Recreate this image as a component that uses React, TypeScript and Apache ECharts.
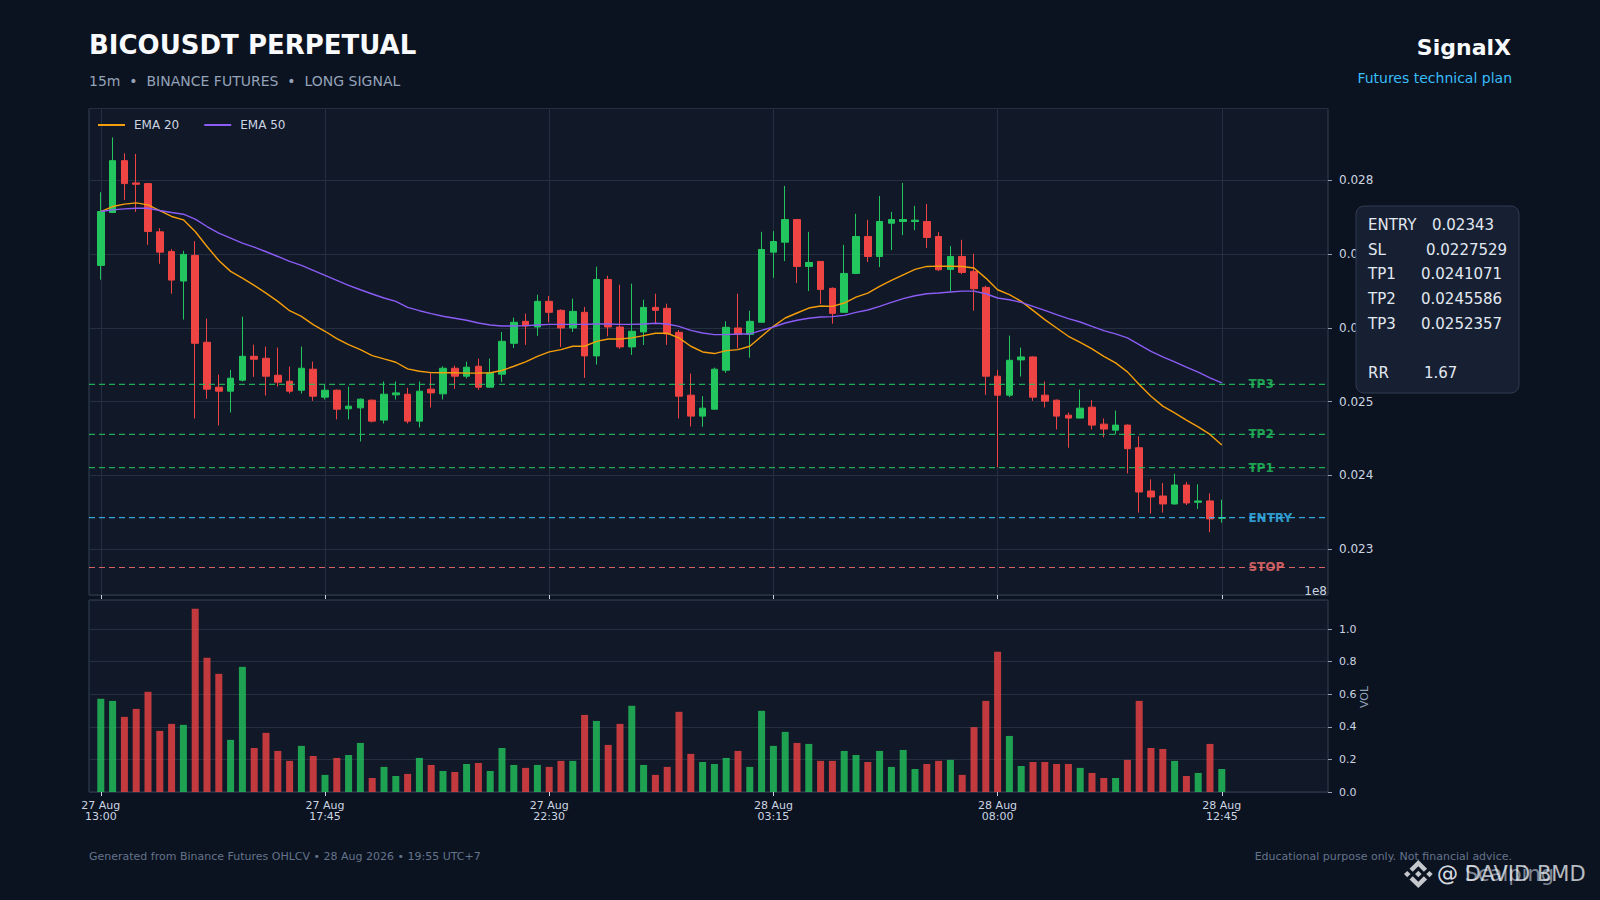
import React, { useEffect, useRef } from "react";
import * as echarts from "echarts";

// ---------------- DATA ----------------
const opens = [
  0.026848, 0.027565, 0.028268, 0.027966, 0.027957, 0.027303, 0.027037, 0.026636, 0.026983, 0.025806,
  0.025197, 0.025143, 0.025292, 0.025616, 0.025589, 0.025359, 0.025278, 0.025156, 0.025441, 0.025062,
  0.025156, 0.024904, 0.024917, 0.025021, 0.024751, 0.025093, 0.025102, 0.024737, 0.02517, 0.025107,
  0.025454, 0.025346, 0.025481, 0.025197, 0.025373, 0.025792, 0.02609, 0.026013, 0.026361, 0.026239,
  0.026, 0.026212, 0.025621, 0.026658, 0.026013, 0.025743, 0.025946, 0.026279, 0.026266, 0.025941,
  0.025089, 0.024805, 0.024899, 0.025427, 0.026, 0.025914, 0.026077, 0.027028, 0.027163, 0.02747,
  0.026834, 0.026902, 0.026537, 0.026212, 0.026739, 0.02724, 0.026969, 0.02742, 0.027443, 0.027443,
  0.027443, 0.02724, 0.026793, 0.026969, 0.026767, 0.02655, 0.025346, 0.025089, 0.025567, 0.025607,
  0.025089, 0.025021, 0.024818, 0.024778, 0.024926, 0.024696, 0.024615, 0.024683, 0.024376, 0.02379,
  0.023722, 0.023614, 0.023871, 0.023637, 0.023655, 0.02342,
];
const closes = [
  0.027578, 0.028268, 0.027957, 0.027948, 0.027308, 0.027028, 0.026649, 0.026997, 0.025792, 0.02517,
  0.025143, 0.025319, 0.025616, 0.025576, 0.025346, 0.025265, 0.025143, 0.025454, 0.025075, 0.025156,
  0.024899, 0.02494, 0.025035, 0.024737, 0.025102, 0.02512, 0.024737, 0.025143, 0.02512, 0.025454,
  0.025346, 0.025468, 0.025197, 0.025391, 0.025819, 0.026077, 0.026027, 0.026361, 0.026212, 0.026,
  0.026225, 0.025621, 0.026658, 0.026013, 0.025743, 0.025955, 0.026279, 0.026239, 0.025919, 0.025075,
  0.024805, 0.024913, 0.025441, 0.026009, 0.025914, 0.02609, 0.027064, 0.027172, 0.02747, 0.026834,
  0.026888, 0.026523, 0.026198, 0.026739, 0.02724, 0.026969, 0.027443, 0.02747, 0.02747, 0.027461,
  0.027227, 0.026789, 0.026969, 0.026753, 0.026532, 0.025346, 0.025089, 0.025562, 0.025607, 0.025062,
  0.025008, 0.024805, 0.024778, 0.024913, 0.024683, 0.024629, 0.024683, 0.024363, 0.023776, 0.023709,
  0.023614, 0.023871, 0.023628, 0.023655, 0.023411, 0.02343,
];
const lows = [
  0.026654, 0.02756, 0.027736, 0.027574, 0.027127, 0.02687, 0.026464, 0.026113, 0.024773, 0.025039,
  0.024678, 0.024854, 0.025274, 0.025337, 0.025084, 0.025206, 0.025111, 0.025111, 0.025012, 0.02503,
  0.02476, 0.02476, 0.024462, 0.024719, 0.024705, 0.02503, 0.024705, 0.024651, 0.024922, 0.02503,
  0.025175, 0.025314, 0.025161, 0.025197, 0.025269, 0.025729, 0.02577, 0.025892, 0.026077, 0.025743,
  0.025946, 0.025323, 0.025504, 0.025887, 0.025716, 0.025635, 0.02577, 0.026067, 0.02577, 0.024773,
  0.024665, 0.02466, 0.024895, 0.025391, 0.02572, 0.025598, 0.026077, 0.026681, 0.026906, 0.026609,
  0.0265, 0.026325, 0.026058, 0.026212, 0.02673, 0.026893, 0.026825, 0.027055, 0.027258, 0.027326,
  0.027082, 0.026771, 0.026496, 0.02673, 0.026234, 0.025093, 0.02411, 0.025062, 0.025342, 0.025012,
  0.024922, 0.024624, 0.024376, 0.024778, 0.024624, 0.024516, 0.024557, 0.024029, 0.023497, 0.023483,
  0.023497, 0.023605, 0.0236, 0.023546, 0.023231, 0.023361,
];
const highs = [
  0.02784, 0.028584, 0.028368, 0.028359, 0.027966, 0.027353, 0.027069, 0.027046, 0.027177, 0.026126,
  0.025368, 0.025432, 0.026153, 0.025774, 0.025747, 0.025734, 0.025477, 0.025747, 0.025544, 0.025229,
  0.025166, 0.025206, 0.025044, 0.02503, 0.025274, 0.025274, 0.025188, 0.025274, 0.025391, 0.025481,
  0.02549, 0.025544, 0.025585, 0.025585, 0.025946, 0.02614, 0.026194, 0.026451, 0.026433, 0.026252,
  0.026397, 0.026284, 0.02683, 0.026708, 0.026586, 0.0266, 0.026383, 0.026464, 0.026329, 0.025973,
  0.025382, 0.025075, 0.025463, 0.02609, 0.026464, 0.026234, 0.027303, 0.027312, 0.027926, 0.02747,
  0.027303, 0.026902, 0.02655, 0.027127, 0.027547, 0.027466, 0.02779, 0.027574, 0.027966, 0.027655,
  0.027682, 0.027299, 0.027109, 0.027195, 0.027006, 0.026573, 0.025432, 0.025896, 0.025734, 0.025616,
  0.025274, 0.02503, 0.024854, 0.025165, 0.025021, 0.024773, 0.024881, 0.024692, 0.02453, 0.023948,
  0.023898, 0.024024, 0.023912, 0.02388, 0.023758, 0.023673,
];
// volume in units of 1e8
const volume1e8 = [
  0.572, 0.559, 0.461, 0.51, 0.615, 0.375, 0.418, 0.412, 1.125, 0.824,
  0.725, 0.32, 0.768, 0.27, 0.363, 0.252, 0.191, 0.283, 0.221, 0.105,
  0.209, 0.227, 0.301, 0.086, 0.154, 0.098, 0.111, 0.209, 0.166, 0.129,
  0.123, 0.172, 0.178, 0.129, 0.27, 0.166, 0.148, 0.166, 0.154, 0.191,
  0.191, 0.473, 0.436, 0.289, 0.418, 0.529, 0.166, 0.105, 0.154, 0.492,
  0.234, 0.184, 0.172, 0.209, 0.252, 0.154, 0.498, 0.283, 0.369, 0.301,
  0.295, 0.191, 0.191, 0.252, 0.227, 0.184, 0.252, 0.154, 0.258, 0.141,
  0.172, 0.191, 0.197, 0.105, 0.398, 0.559, 0.861, 0.344, 0.16, 0.184,
  0.184, 0.172, 0.172, 0.148, 0.117, 0.086, 0.086, 0.197, 0.559, 0.27,
  0.264, 0.191, 0.098, 0.117, 0.295, 0.141,
];
const ema20 = [
  0.027578, 0.027646, 0.027678, 0.027696, 0.027669, 0.027592, 0.027511, 0.027466, 0.027308, 0.027105,
  0.026915, 0.026767, 0.026676, 0.026577, 0.026473, 0.026361, 0.026234, 0.026158, 0.026045, 0.025955,
  0.025856, 0.025774, 0.025707, 0.025626, 0.02558, 0.025535, 0.025445, 0.025414, 0.025395, 0.025392,
  0.025392, 0.025388, 0.02539, 0.025393, 0.025423, 0.025481, 0.02554, 0.025616, 0.025675, 0.025707,
  0.025752, 0.025752, 0.025819, 0.025851, 0.025851, 0.025865, 0.025896, 0.025928, 0.025928, 0.025865,
  0.025752, 0.025675, 0.025653, 0.025693, 0.025707, 0.025752, 0.025887, 0.026022, 0.026135, 0.026203,
  0.02627, 0.026298, 0.026293, 0.026338, 0.026419, 0.026473, 0.026564, 0.026645, 0.026721, 0.026794,
  0.026834, 0.026838, 0.026836, 0.026834, 0.026812, 0.026676, 0.026518, 0.026451, 0.026361, 0.026239,
  0.026113, 0.026, 0.025887, 0.025806, 0.025716, 0.025616, 0.025526, 0.025405, 0.025233, 0.025075,
  0.02494, 0.02485, 0.024751, 0.02466, 0.024557, 0.024412,
];
const ema50 = [
  0.027578, 0.027601, 0.027614, 0.027623, 0.027623, 0.027592, 0.027565, 0.027542, 0.027475, 0.027375,
  0.027285, 0.027218, 0.02715, 0.027096, 0.027033, 0.026969, 0.026902, 0.026848, 0.02678, 0.026712,
  0.026645, 0.026577, 0.026518, 0.02646, 0.026406, 0.026361, 0.026279, 0.026234, 0.026194, 0.026158,
  0.026131, 0.026104, 0.026067, 0.02604, 0.026027, 0.026027, 0.026031, 0.02604, 0.026049, 0.026049,
  0.026049, 0.026049, 0.026054, 0.026054, 0.026049, 0.026049, 0.026054, 0.026063, 0.026054, 0.026022,
  0.025968, 0.025932, 0.02591, 0.02591, 0.025919, 0.025919, 0.025968, 0.026013, 0.026067, 0.026104,
  0.026131, 0.026149, 0.026153, 0.026171, 0.026212, 0.026243, 0.026293, 0.026347, 0.026397, 0.026437,
  0.026464, 0.026473, 0.026487, 0.0265, 0.0265, 0.026464, 0.026406, 0.026383, 0.026347, 0.026293,
  0.026239, 0.02618, 0.026126, 0.026081, 0.026022, 0.025964, 0.025919, 0.025865, 0.025774, 0.025684,
  0.025607, 0.02554, 0.025468, 0.0254, 0.025323, 0.025256,
];
const tickLabels = [
  "27 Aug\n13:00",
  "27 Aug\n17:45",
  "27 Aug\n22:30",
  "28 Aug\n03:15",
  "28 Aug\n08:00",
  "28 Aug\n12:45",
];
const levelNames = ["TP3", "TP2", "TP1", "ENTRY", "STOP"];
const levelValues = [0.0252357, 0.0245586, 0.0241071, 0.02343, 0.0227529];
const infoLabels = ["ENTRY", "SL", "TP1", "TP2", "TP3", "", "RR"];
const infoValues = ["0.02343", "0.0227529", "0.0241071", "0.0245586", "0.0252357", "", "1.67"];

// ---------------- STYLE / LAYOUT ----------------
const FONT = "DejaVu Sans";
const GREEN = "#22c55e";
const RED = "#ef4444";
const VOL_GREEN = "rgba(34,197,94,0.8)";
const VOL_RED = "rgba(239,68,68,0.8)";
const GRID_LINE = "#243042";
const BORDER = "#334155";
const LEVEL_COLORS: Record<string, string> = {
  TP3: "#22c55e",
  TP2: "#22c55e",
  TP1: "#22c55e",
  ENTRY: "#38bdf8",
  STOP: "#f87171",
};
const infoY = [224.5, 249.5, 274, 298.5, 323.5, 348, 372.5];
const infoValueX = [1432, 1426, 1421, 1421, 1421, 0, 1424];

const PAD_LEFT = 1;
const PAD_RIGHT = 9;
const TICK_EVERY = 19;

const BINANCE_D =
  "M38.73 53.2l24.59-24.58 24.6 24.6 14.3-14.31L63.32 0 24.43 38.9l14.3 14.3zM0 63.31l14.3-14.31 14.31 14.31-14.31 14.3L0 63.31zm38.73 10.11l24.59 24.59 24.6-24.6 14.31 14.29-38.9 38.91-38.91-38.88-.02-.02 14.33-14.29zm59.66-10.1l14.31-14.31 14.3 14.3-14.3 14.31-14.31-14.3zM77.83 63.3L63.32 48.78 52.59 59.51l-1.24 1.23-2.54 2.54-.02.02.02.03 14.51 14.5 14.51-14.52.01-.01-.01-.01z";
let logoRegistered = false;

function txt(
  x: number,
  y: number,
  text: string,
  size: number,
  fill: string,
  align: string = "left",
  weight: string = "normal",
  z = 120,
  rotation = 0
) {
  return {
    type: "text",
    x,
    y,
    z,
    rotation,
    silent: true,
    style: {
      text,
      fill,
      fontSize: size,
      fontWeight: weight,
      fontFamily: FONT,
      align,
      textAlign: align,
      verticalAlign: "middle",
      textVerticalAlign: "middle",
    },
  };
}

export default function App() {
  const ref = useRef<HTMLDivElement>(null);

  useEffect(() => {
    document.body.style.margin = "0";
    document.body.style.background = "#0b1220";
    if (!logoRegistered) {
      echarts.graphic.registerShape("binanceLogo", echarts.graphic.extendPath(BINANCE_D, {}) as any);
      logoRegistered = true;
    }
    const chart = echarts.init(ref.current as HTMLDivElement, null, { renderer: "svg" });

    const N = opens.length;
    const TOTAL = N + PAD_LEFT + PAD_RIGHT;
    const cats = Array.from({ length: TOTAL }, (_, k) => String(k));
    const isTick = (k: number) =>
      k >= PAD_LEFT && k < PAD_LEFT + N && (k - PAD_LEFT) % TICK_EVERY === 0;

    const candleData = opens.map((o, i) => [i + PAD_LEFT, o, closes[i], lows[i], highs[i]]);
    const ema20Data = ema20.map((v, i) => [i + PAD_LEFT, v]);
    const ema50Data = ema50.map((v, i) => [i + PAD_LEFT, v]);
    const volData = volume1e8.map((v, i) => ({
      value: [i + PAD_LEFT, v],
      itemStyle: { color: closes[i] >= opens[i] ? VOL_GREEN : VOL_RED },
    }));
    const labelCat = PAD_LEFT + N + 1;
    const levelLabelData = levelValues.map((v, i) => ({
      value: [labelCat, v],
      name: levelNames[i],
      label: { color: LEVEL_COLORS[levelNames[i]] },
    }));

    const levelLineSeries = levelValues.map((v, i) => ({
      type: "line",
      name: "level-" + levelNames[i],
      xAxisIndex: 0,
      yAxisIndex: 0,
      data: [
        [0, v],
        [TOTAL - 1, v],
      ],
      symbol: "none",
      silent: true,
      z: 3,
      lineStyle: {
        color: LEVEL_COLORS[levelNames[i]],
        opacity: 0.85,
        type: [6, 4],
        width: 1.2,
      },
    }));

    const graphics: any[] = [
      txt(89, 45, "BICOUSDT PERPETUAL", 26, "#f8fafc", "left", "bold"),
      txt(89, 81, "15m  •  BINANCE FUTURES  •  LONG SIGNAL", 14, "#94a3b8"),
      txt(1511, 47, "SignalX", 22, "#f8fafc", "right", "bold"),
      txt(1512, 78, "Futures technical plan", 14, "#38bdf8", "right"),
      txt(1327, 591, "1e8", 12, "#cbd5e1", "right"),
      txt(1364, 697, "VOL", 11, "#94a3b8", "center", "normal", 120, Math.PI / 2),
      txt(89, 856, "Generated from Binance Futures OHLCV • 28 Aug 2026 • 19:55 UTC+7", 11, "#64748b"),
      txt(1512, 856, "Educational purpose only. Not financial advice.", 11, "#64748b", "right"),
      {
        type: "rect",
        z: 110,
        silent: true,
        shape: { x: 1356, y: 206, width: 163, height: 187, r: 8 },
        style: { fill: "#172033", stroke: "#2f3b50", lineWidth: 1 },
      },
      {
        type: "binanceLogo",
        x: 1404,
        y: 860,
        scaleX: 0.226,
        scaleY: 0.222,
        z: 120,
        silent: true,
        style: { fill: "rgba(229,231,235,0.85)" },
      },
      txt(1437, 874, "@ Scalping", 21, "rgba(203,213,225,0.6)"),
      txt(1437, 874, "@ DAVID BMD", 21, "rgba(241,245,249,0.75)"),
    ];
    infoLabels.forEach((lab, i) => {
      if (!lab) return;
      graphics.push(txt(1368, infoY[i], lab, 15, "#e2e8f0"));
      graphics.push(txt(infoValueX[i], infoY[i], infoValues[i], 15, "#e2e8f0"));
    });

    const option: any = {
      animation: false,
      backgroundColor: "#0b1220",
      textStyle: { fontFamily: FONT },
      legend: {
        data: ["EMA 20", "EMA 50"],
        left: 98,
        top: 119,
        padding: 0,
        icon: "rect",
        itemWidth: 27,
        itemHeight: 2,
        itemGap: 25,
        textStyle: { color: "#cbd5e1", fontSize: 12, fontFamily: FONT, padding: [0, 0, 0, 4] },
        selectedMode: false,
      },
      grid: [
        {
          left: 89,
          top: 108.5,
          width: 1239,
          height: 486.5,
          show: true,
          backgroundColor: "#111827",
          borderColor: BORDER,
          borderWidth: 1,
        },
        {
          left: 89,
          top: 600,
          width: 1239,
          height: 192,
          show: true,
          backgroundColor: "#111827",
          borderColor: BORDER,
          borderWidth: 1,
        },
      ],
      xAxis: [
        {
          type: "category",
          gridIndex: 0,
          data: cats,
          boundaryGap: false,
          axisLine: { show: false },
          axisTick: {
            show: true,
            interval: (k: number) => isTick(k),
            length: 4,
            lineStyle: { color: "#cbd5e1" },
          },
          axisLabel: { show: false },
          splitLine: { show: true, interval: (k: number) => isTick(k), lineStyle: { color: GRID_LINE } },
        },
        {
          type: "category",
          gridIndex: 1,
          data: cats,
          boundaryGap: false,
          axisLine: { show: false },
          axisTick: {
            show: true,
            interval: (k: number) => isTick(k),
            length: 4,
            lineStyle: { color: "#cbd5e1" },
          },
          axisLabel: {
            show: true,
            interval: (k: number) => isTick(k),
            formatter: (_v: string, idx: number) => tickLabels[(idx - PAD_LEFT) / TICK_EVERY] ?? "",
            color: "#cbd5e1",
            fontSize: 11,
            lineHeight: 11,
            margin: 8,
            fontFamily: FONT,
          },
          splitLine: { show: false },
        },
      ],
      yAxis: [
        {
          type: "value",
          gridIndex: 0,
          position: "right",
          min: 0.02238,
          max: 0.028975,
          splitNumber: 5,
          axisLine: { show: false },
          axisTick: { show: true, length: 4, lineStyle: { color: "#94a3b8" } },
          axisLabel: {
            color: "#cbd5e1",
            fontSize: 12,
            margin: 11,
            fontFamily: FONT,
            showMinLabel: false,
            showMaxLabel: false,
            formatter: (v: number) => v.toFixed(3),
          },
          splitLine: { show: true, lineStyle: { color: GRID_LINE } },
        },
        {
          type: "value",
          gridIndex: 1,
          position: "right",
          min: 0,
          max: 1.178,
          interval: 0.2,
          axisLine: { show: false },
          axisTick: { show: true, length: 4, lineStyle: { color: "#94a3b8" } },
          axisLabel: {
            color: "#cbd5e1",
            fontSize: 11,
            margin: 11,
            fontFamily: FONT,
            showMaxLabel: false,
            formatter: (v: number) => v.toFixed(1),
          },
          splitLine: { show: true, lineStyle: { color: GRID_LINE } },
        },
      ],
      series: [
        ...levelLineSeries,
        {
          type: "candlestick",
          name: "OHLC",
          xAxisIndex: 0,
          yAxisIndex: 0,
          data: candleData,
          encode: { x: 0, y: [1, 2, 3, 4] },
          barWidth: 7,
          z: 2,
          itemStyle: {
            color: GREEN,
            color0: RED,
            borderColor: GREEN,
            borderColor0: RED,
            borderColorDoji: GREEN,
            borderWidth: 1,
          },
        },
        {
          type: "line",
          name: "EMA 20",
          xAxisIndex: 0,
          yAxisIndex: 0,
          data: ema20Data,
          symbol: "none",
          z: 4,
          color: "#f59e0b",
          lineStyle: { color: "#f59e0b", width: 1.4 },
        },
        {
          type: "line",
          name: "EMA 50",
          xAxisIndex: 0,
          yAxisIndex: 0,
          data: ema50Data,
          symbol: "none",
          z: 4,
          color: "#8b5cf6",
          lineStyle: { color: "#8b5cf6", width: 1.4 },
        },
        {
          type: "scatter",
          name: "levels",
          xAxisIndex: 0,
          yAxisIndex: 0,
          data: levelLabelData,
          symbolSize: 0,
          silent: true,
          z: 6,
          label: {
            show: true,
            position: "right",
            distance: 3,
            formatter: (p: any) => p.name,
            fontWeight: "bold",
            fontSize: 12,
            fontFamily: FONT,
          },
        },
        {
          type: "bar",
          name: "Volume",
          xAxisIndex: 1,
          yAxisIndex: 1,
          data: volData,
          barWidth: 7,
        },
      ],
      graphic: graphics,
    };

    chart.setOption(option);
    return () => chart.dispose();
  }, []);

  return <div ref={ref} style={{ width: 1600, height: 900 }} />;
}
